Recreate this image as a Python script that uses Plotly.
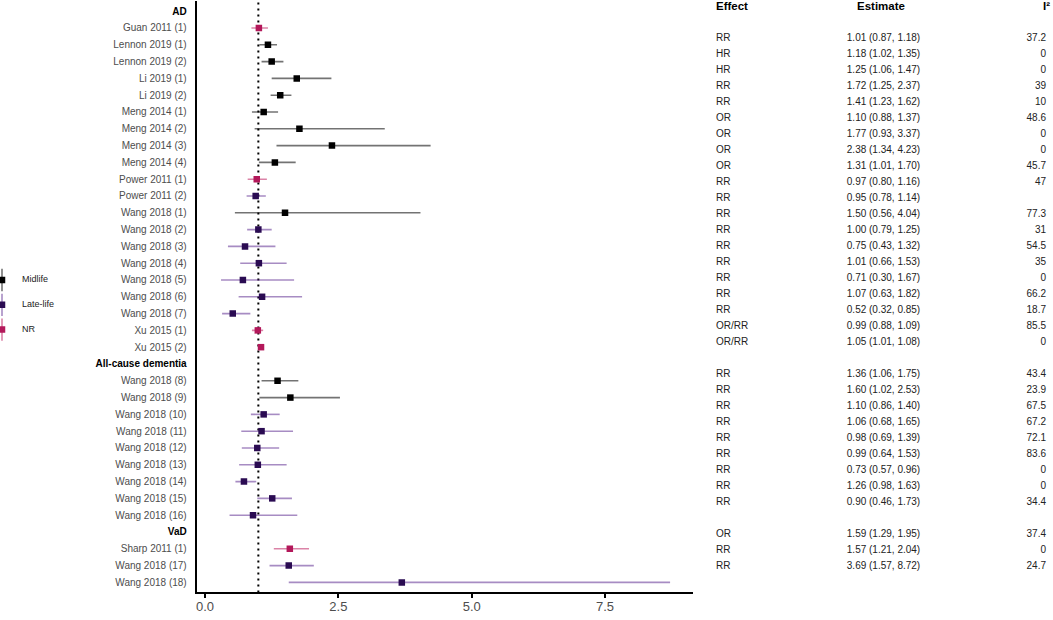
import plotly.graph_objects as go

sections = ["AD", "All-cause dementia", "VaD"]

study = [
    "Guan 2011 (1)", "Lennon 2019 (1)", "Lennon 2019 (2)", "Li 2019 (1)", "Li 2019 (2)",
    "Meng 2014 (1)", "Meng 2014 (2)", "Meng 2014 (3)", "Meng 2014 (4)",
    "Power 2011 (1)", "Power 2011 (2)",
    "Wang 2018 (1)", "Wang 2018 (2)", "Wang 2018 (3)", "Wang 2018 (4)", "Wang 2018 (5)",
    "Wang 2018 (6)", "Wang 2018 (7)", "Xu 2015 (1)", "Xu 2015 (2)",
    "Wang 2018 (8)", "Wang 2018 (9)", "Wang 2018 (10)", "Wang 2018 (11)", "Wang 2018 (12)",
    "Wang 2018 (13)", "Wang 2018 (14)", "Wang 2018 (15)", "Wang 2018 (16)",
    "Sharp 2011 (1)", "Wang 2018 (17)", "Wang 2018 (18)",
]
section = ["AD"] * 20 + ["All-cause dementia"] * 9 + ["VaD"] * 3
group = [
    "NR", "Midlife", "Midlife", "Midlife", "Midlife",
    "Midlife", "Midlife", "Midlife", "Midlife",
    "NR", "Late-life",
    "Midlife", "Late-life", "Late-life", "Late-life", "Late-life",
    "Late-life", "Late-life", "NR", "NR",
    "Midlife", "Midlife", "Late-life", "Late-life", "Late-life",
    "Late-life", "Late-life", "Late-life", "Late-life",
    "NR", "Late-life", "Late-life",
]
effect = [
    "RR", "HR", "HR", "RR", "RR", "OR", "OR", "OR", "OR", "RR", "RR",
    "RR", "RR", "RR", "RR", "RR", "RR", "RR", "OR/RR", "OR/RR",
    "RR", "RR", "RR", "RR", "RR", "RR", "RR", "RR", "RR",
    "OR", "RR", "RR",
]
est = [1.01, 1.18, 1.25, 1.72, 1.41, 1.10, 1.77, 2.38, 1.31, 0.97, 0.95,
       1.50, 1.00, 0.75, 1.01, 0.71, 1.07, 0.52, 0.99, 1.05,
       1.36, 1.60, 1.10, 1.06, 0.98, 0.99, 0.73, 1.26, 0.90,
       1.59, 1.57, 3.69]
lower = [0.87, 1.02, 1.06, 1.25, 1.23, 0.88, 0.93, 1.34, 1.01, 0.80, 0.78,
         0.56, 0.79, 0.43, 0.66, 0.30, 0.63, 0.32, 0.88, 1.01,
         1.06, 1.02, 0.86, 0.68, 0.69, 0.64, 0.57, 0.98, 0.46,
         1.29, 1.21, 1.57]
upper = [1.18, 1.35, 1.47, 2.37, 1.62, 1.37, 3.37, 4.23, 1.70, 1.16, 1.14,
         4.04, 1.25, 1.32, 1.53, 1.67, 1.82, 0.85, 1.09, 1.08,
         1.75, 2.53, 1.40, 1.65, 1.39, 1.53, 0.96, 1.63, 1.73,
         1.95, 2.04, 8.72]
i2 = ["37.2", "0", "0", "39", "10", "48.6", "0", "0", "45.7", "47", "",
      "77.3", "31", "54.5", "35", "0", "66.2", "18.7", "85.5", "0",
      "43.4", "23.9", "67.5", "67.2", "72.1", "83.6", "0", "0", "34.4",
      "37.4", "0", "24.7"]

groups = ["Midlife", "Late-life", "NR"]
point_col = {"Midlife": "#000000", "Late-life": "#2a0b52", "NR": "#b3185a"}
line_col = {"Midlife": "rgba(0,0,0,0.55)", "Late-life": "rgba(80,25,135,0.5)",
            "NR": "rgba(190,30,95,0.55)"}

FONT = "Liberation Sans, Arial, sans-serif"
W, H = 1053, 620

# --- Row layout: section header rows followed by their studies ---
tick_vals, tick_text = [], []
row_idx = [0] * len(study)
r = 0
for s in sections:
    tick_vals.append(r)
    tick_text.append(f"<span style='color:black'><b>{s}</b></span>")
    r += 1
    for k in range(len(study)):
        if section[k] == s:
            row_idx[k] = r
            tick_vals.append(r)
            tick_text.append(study[k])
            r += 1
n_rows = r

fig = go.Figure()

# --- Forest plot ---
fig.add_shape(type="line", xref="x", yref="y domain", x0=1, x1=1, y0=0, y1=1,
              line=dict(color="black", width=2, dash="2px,4px"), layer="below")

for g in groups:
    ks = [k for k in range(len(study)) if group[k] == g]
    fig.add_trace(go.Scatter(
        x=[est[k] for k in ks], y=[row_idx[k] for k in ks],
        mode="markers",
        marker=dict(symbol="square", size=6.5, color=point_col[g]),
        error_x=dict(type="data", symmetric=False,
                     array=[upper[k] - est[k] for k in ks],
                     arrayminus=[est[k] - lower[k] for k in ks],
                     color=line_col[g], thickness=1.6, width=0),
        name=g, xaxis="x", yaxis="y", hoverinfo="skip",
    ))

# --- Table on the right ---
col_effect, col_est, col_i2 = 716, 883.5, 1046
fig.add_trace(go.Scatter(
    x=[col_effect] * len(study), y=row_idx, text=effect, mode="text",
    textposition="middle right", textfont=dict(family=FONT, size=10, color="#222"),
    xaxis="x2", yaxis="y2", hoverinfo="skip"))
fig.add_trace(go.Scatter(
    x=[col_est] * len(study), y=row_idx,
    text=[f"{est[k]:.2f} ({lower[k]:.2f}, {upper[k]:.2f})" for k in range(len(study))],
    mode="text", textposition="middle center",
    textfont=dict(family=FONT, size=10, color="#222"),
    xaxis="x2", yaxis="y2", hoverinfo="skip"))
fig.add_trace(go.Scatter(
    x=[col_i2] * len(study), y=row_idx, text=i2, mode="text",
    textposition="middle left", textfont=dict(family=FONT, size=10, color="#222"),
    xaxis="x2", yaxis="y2", hoverinfo="skip"))
headers = ["<b>Effect</b>", "<b>Estimate</b>", "<b>I²</b>"]
fig.add_trace(go.Scatter(
    x=[col_effect, 881, 1050], y=[-0.95, -0.95, -0.95], text=headers, mode="text",
    textposition=["middle right", "middle center", "middle left"],
    textfont=dict(family=FONT, size=11.5, color="black"),
    xaxis="x2", yaxis="y2", hoverinfo="skip"))

# --- Hand-drawn legend on the left ---
leg_rows = list(range(len(groups)))
for i, g in enumerate(groups):
    fig.add_trace(go.Scatter(
        x=[2], y=[leg_rows[i]], mode="markers",
        marker=dict(symbol="square", size=6.5, color=point_col[g]),
        error_y=dict(type="constant", value=0.45, color=line_col[g], thickness=1.6, width=0),
        xaxis="x3", yaxis="y3", hoverinfo="skip"))
fig.add_trace(go.Scatter(
    x=[22] * len(groups), y=leg_rows, text=groups, mode="text",
    textposition="middle right", textfont=dict(family=FONT, size=9, color="#222"),
    xaxis="x3", yaxis="y3", hoverinfo="skip"))

# --- Layout ---
plot_top, row_h = 1.1, 16.8          # px: panel top edge, row pitch of the forest plot
plot_bot = plot_top + (n_rows - 1 + 1.2) * row_h
fig.update_layout(
    width=W, height=H,
    margin=dict(l=0, r=0, t=0, b=0),
    plot_bgcolor="white", paper_bgcolor="white",
    showlegend=False,
    font=dict(family=FONT, color="#4d4d4d"),
    xaxis=dict(domain=[196.7 / W, 693 / W], range=[-0.156, 9.15],
               tickvals=[0, 2.5, 5, 7.5], tickformat=".1f",
               ticks="outside", ticklen=4, tickwidth=1.5, tickcolor="black",
               ticklabelstandoff=-3,
               showline=True, linecolor="black", linewidth=2,
               showgrid=False, zeroline=False, automargin=False,
               tickfont=dict(family=FONT, size=13, color="#4d4d4d"), anchor="y"),
    yaxis=dict(domain=[1 - plot_bot / H, 1 - plot_top / H], range=[n_rows - 1 + 0.6, -0.6],
               tickvals=tick_vals, ticktext=tick_text,
               ticks="", ticklen=0, ticklabelstandoff=6,
               showline=True, linecolor="black", linewidth=2,
               showgrid=False, zeroline=False, automargin=False,
               tickfont=dict(family=FONT, size=10, color="#4d4d4d"), anchor="x"),
    xaxis2=dict(domain=[695 / W, 1], range=[695, W], visible=False),
    yaxis2=dict(domain=[0, 1], range=[37.375, -1.375], visible=False, anchor="x2"),
    xaxis3=dict(domain=[0, 105.3 / W], range=[0, 105.3], visible=False),
    yaxis3=dict(domain=[0, 1], range=[13.71, -11.29], visible=False, anchor="x3"),
)

# page body margin off so the figure sits at the window's top-left corner
fig.write_html("out.html", config={"displayModeBar": False},
               post_script="document.body.style.margin='0';document.body.style.overflow='hidden';")
